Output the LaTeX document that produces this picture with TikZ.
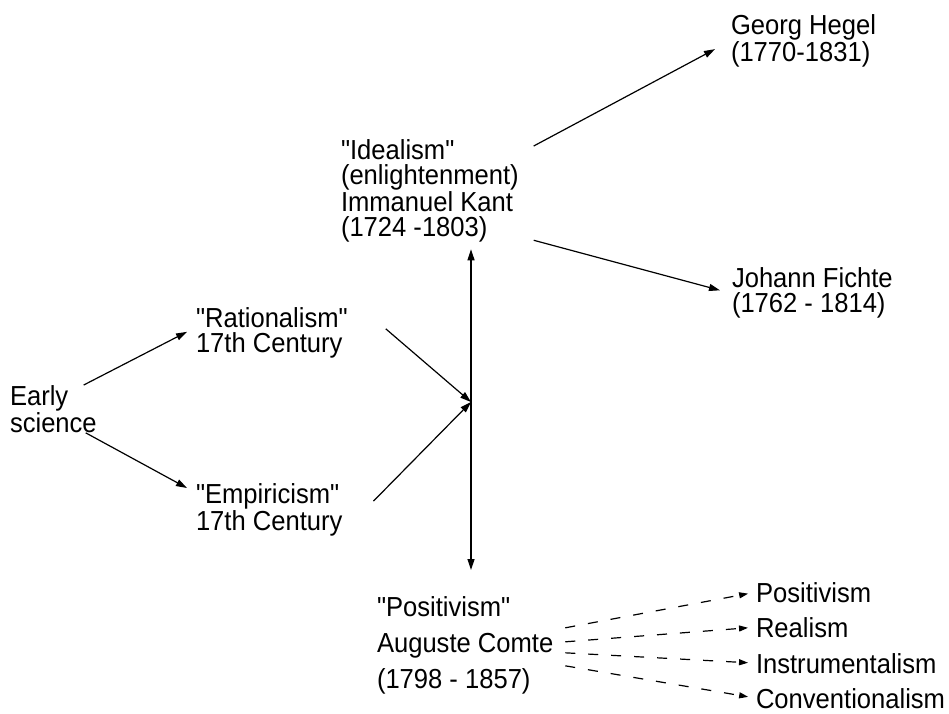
\documentclass[tikz,border=0pt]{standalone}
\usepackage{fontspec}
\setmainfont{Liberation Sans}[FakeStretch=0.93,Ligatures=TeXOff]
\usetikzlibrary{arrows.meta,calc}
\begin{document}
\begin{tikzpicture}[x=1pt,y=-1pt,
  lbl/.style={anchor=north west,inner sep=0pt,outer sep=0pt,align=left,
    font=\fontsize{27.5}{25}\selectfont},
  lblwide/.style={lbl,font=\fontsize{27.5}{36}\selectfont},
  item/.style={anchor=base west,inner sep=0pt,outer sep=0pt,
    font=\fontsize{27.5}{25}\selectfont},
  arr/.style={line width=1.2pt,-{Triangle[length=11pt,width=7pt]}},
  darr/.style={line width=1.2pt,dash pattern=on 10pt off 13pt,
    -{Triangle[length=9pt,width=6pt]}}]
\useasboundingbox (0,0) rectangle (949,713);
\node[lbl] (early) at (10,386) {Early\\science};
\node[lbl] (rat) at (196,308) {"Rationalism"\\17th Century};
\node[lbl] (emp) at (196,484) {"Empiricism"\\17th Century};
\node[lbl] (kant) at (341,140) {"Idealism"\\(enlightenment)\\Immanuel Kant\\(1724 -1803)};
\node[lbl] (hegel) at (731,15) {Georg Hegel\\(1770-1831)};
\node[lbl] (fichte) at (732,268) {Johann Fichte\\(1762 - 1814)};
\node[lblwide] (comte) at (377,597) {"Positivism"\\Auguste Comte\\(1798 - 1857)};
\node[item] (p1) at (756,602) {Positivism};
\node[item] (p2) at (756,637) {Realism};
\node[item] (p3) at (756,673) {Instrumentalism};
\node[item] (p4) at (756,708) {Conventionalism};
\coordinate (J) at (471,402);
% early science
\draw[arr] ($(early.north east)+(-13,-1)$) -- ($(rat.west)+(-9,-1.5)$);
\draw[arr] ($(early.south east)+(-11,0)$) -- ($(emp.north west)+(-9,4)$);
% into the junction
\draw[arr] ($(rat.east)+(38,-4.5)$) -- (J);
\draw[arr] ($(emp.east)+(31,-9)$) -- (J);
% vertical
\draw[arr,shorten >=7pt] (J) -- (J |- kant.south);
\draw[arr] (J) -- ($(J |- comte.north)+(0,-27)$);
% Kant
\draw[arr] ($(kant.north east)+(15,6)$) -- ($(hegel.west)+(-16,8)$);
\draw[arr] ($(kant.south east)+(15,-2)$) -- ($(fichte.west)+(-12,-3)$);
% Comte
\draw[darr,shorten >=8pt] ($(comte.east)+(12,-18)$) -- (p1.west);
\draw[darr,shorten >=8pt] ($(comte.east)+(12,-4)$) -- (p2.west);
\draw[darr,shorten >=8pt] ($(comte.east)+(12,7)$) -- (p3.west);
\draw[darr,shorten >=8pt] ($(comte.east)+(12,20)$) -- (p4.west);
\end{tikzpicture}
\end{document}
